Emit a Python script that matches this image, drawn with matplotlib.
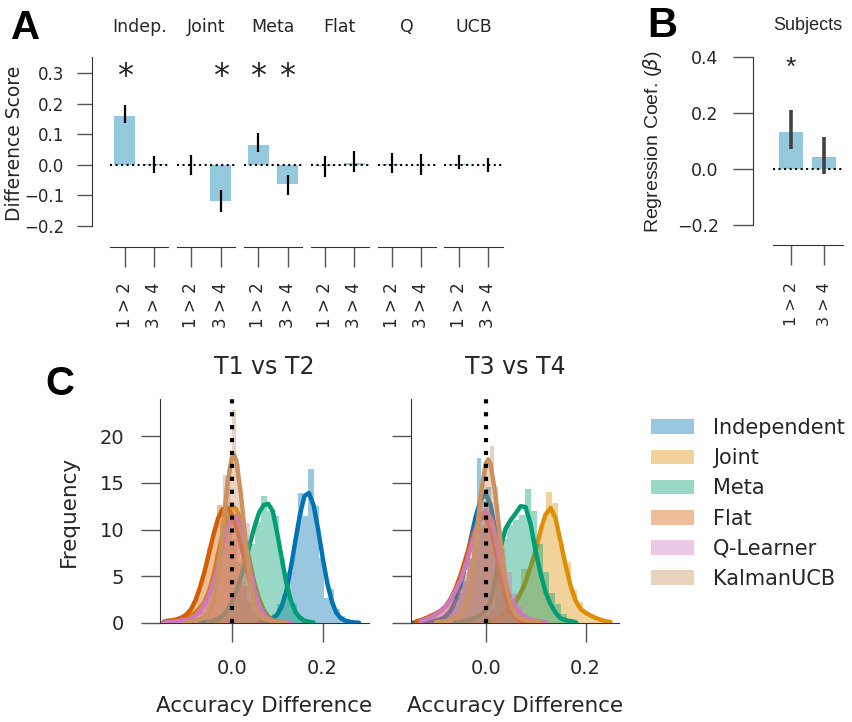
import numpy as np
import matplotlib
matplotlib.use('Agg')
import matplotlib.pyplot as plt
from matplotlib.patches import Patch

# ---------------- Panel A data ----------------
A_MODELS = ['Indep.', 'Joint', 'Meta', 'Flat', 'Q', 'UCB']
A_CONTRASTS = ['1 > 2', '3 > 4']
A_VAL_12 = [0.158, -0.002, 0.064, -0.004, 0.003, 0.003]
A_LO_12 = [0.136, -0.035, 0.040, -0.040, -0.028, -0.014]
A_HI_12 = [0.196, 0.031, 0.104, 0.029, 0.038, 0.032]
A_VAL_34 = [0.002, -0.120, -0.063, 0.004, 0.000, -0.001]
A_LO_34 = [-0.026, -0.156, -0.099, -0.025, -0.035, -0.025]
A_HI_34 = [0.029, -0.084, -0.035, 0.044, 0.035, 0.022]
A_SIG_12 = [True, False, True, False, False, False]
A_SIG_34 = [False, True, True, False, False, False]
A_YTICKS = [-0.2, -0.1, 0.0, 0.1, 0.2, 0.3]

# ---------------- Panel B data ----------------
B_TITLE = 'Subjects'
B_VAL = [0.133, 0.043]
B_LO = [0.070, -0.018]
B_HI = [0.210, 0.115]
B_SIG = [True, False]
B_YTICKS = [-0.2, 0.0, 0.2, 0.4]

# ---------------- Panel C data ----------------
C_MODELS = ['Independent', 'Joint', 'Meta', 'Flat', 'Q-Learner', 'KalmanUCB']
C_COLORS = ['#0173B2', '#DE8F05', '#029E73', '#D55E00', '#CC78BC', '#CA9161']
C_TITLES = ['T1 vs T2', 'T3 vs T4']

# KDE curves, T1 vs T2
K12_INDEP_X = [0.06, 0.07, 0.08, 0.09, 0.10, 0.11, 0.12, 0.13, 0.14, 0.15, 0.16, 0.17, 0.18, 0.19, 0.20, 0.21, 0.22, 0.23, 0.24, 0.25, 0.26, 0.27, 0.28]
K12_INDEP_Y = [0.05, 0.1, 0.25, 0.5, 0.9, 1.8, 3.4, 5.9, 8.8, 11.6, 13.6, 13.9, 12.6, 10.0, 7.0, 4.3, 2.35, 1.1, 0.5, 0.25, 0.12, 0.06, 0.03]
K12_JOINT_X = [-0.15, -0.14, -0.13, -0.12, -0.11, -0.10, -0.09, -0.08, -0.07, -0.06, -0.05, -0.04, -0.03, -0.02, -0.01, 0.00, 0.01, 0.02, 0.03, 0.04, 0.05, 0.06, 0.07, 0.08, 0.09, 0.10, 0.11, 0.12]
K12_JOINT_Y = [0.1, 0.15, 0.2, 0.25, 0.35, 0.5, 0.75, 1.1, 1.6, 2.3, 3.4, 5.1, 7.35, 9.65, 11.5, 12.45, 12.2, 10.85, 8.8, 6.4, 4.2, 2.6, 1.4, 0.7, 0.35, 0.15, 0.07, 0.03]
K12_META_X = [-0.07, -0.06, -0.05, -0.04, -0.03, -0.02, -0.01, 0.00, 0.01, 0.02, 0.03, 0.04, 0.05, 0.06, 0.07, 0.08, 0.09, 0.10, 0.11, 0.12, 0.13, 0.14, 0.15, 0.16, 0.17, 0.18]
K12_META_Y = [0.05, 0.08, 0.15, 0.25, 0.45, 0.8, 1.35, 2.2, 3.4, 4.9, 6.6, 8.5, 10.3, 11.8, 12.6, 12.75, 12.0, 9.6, 6.9, 4.3, 2.4, 1.2, 0.55, 0.25, 0.12, 0.05]
K12_FLAT_X = [-0.15, -0.14, -0.13, -0.12, -0.11, -0.10, -0.09, -0.08, -0.07, -0.06, -0.05, -0.04, -0.03, -0.02, -0.01, 0.00, 0.01, 0.02, 0.03, 0.04, 0.05, 0.06, 0.07, 0.08, 0.09, 0.10]
K12_FLAT_Y = [0.15, 0.25, 0.3, 0.4, 0.6, 0.9, 1.45, 2.4, 3.8, 5.5, 7.5, 9.5, 11.2, 12.2, 12.35, 11.65, 10.2, 8.35, 6.3, 4.45, 2.9, 1.75, 1.0, 0.55, 0.25, 0.1]
K12_Q_X = [-0.15, -0.14, -0.13, -0.12, -0.11, -0.10, -0.09, -0.08, -0.07, -0.06, -0.05, -0.04, -0.03, -0.02, -0.01, 0.00, 0.01, 0.02, 0.03, 0.04, 0.05, 0.06, 0.07, 0.08, 0.09, 0.10, 0.11, 0.12, 0.13]
K12_Q_Y = [0.05, 0.1, 0.15, 0.2, 0.3, 0.35, 0.45, 0.8, 1.2, 2.0, 3.0, 4.45, 6.35, 8.4, 10.15, 11.3, 11.45, 10.35, 8.2, 5.75, 3.5, 1.9, 0.95, 0.45, 0.25, 0.15, 0.1, 0.06, 0.03]
K12_UCB_X = [-0.10, -0.09, -0.08, -0.07, -0.06, -0.05, -0.04, -0.03, -0.02, -0.01, 0.00, 0.005, 0.01, 0.02, 0.03, 0.04, 0.05, 0.06, 0.07, 0.08, 0.09, 0.10, 0.11, 0.12]
K12_UCB_Y = [0.1, 0.15, 0.25, 0.4, 0.6, 1.0, 2.4, 5.4, 9.9, 14.7, 17.7, 18.0, 17.35, 13.8, 9.0, 4.7, 2.0, 0.9, 0.5, 0.3, 0.2, 0.12, 0.07, 0.03]

# KDE curves, T3 vs T4
K34_INDEP_X = [-0.15, -0.14, -0.13, -0.12, -0.11, -0.10, -0.09, -0.08, -0.07, -0.06, -0.05, -0.04, -0.03, -0.02, -0.01, 0.00, 0.01, 0.02, 0.03, 0.04, 0.05, 0.06, 0.07, 0.08, 0.09]
K34_INDEP_Y = [0.02, 0.04, 0.07, 0.1, 0.15, 0.25, 0.4, 0.7, 1.3, 2.4, 4.1, 6.3, 8.9, 11.35, 13.15, 13.8, 12.65, 9.7, 6.3, 3.4, 1.6, 0.7, 0.3, 0.12, 0.05]
K34_JOINT_X = [0.00, 0.01, 0.02, 0.03, 0.04, 0.05, 0.06, 0.07, 0.08, 0.09, 0.10, 0.11, 0.12, 0.13, 0.14, 0.15, 0.16, 0.17, 0.18, 0.19, 0.20, 0.21, 0.22, 0.23, 0.24, 0.25]
K34_JOINT_Y = [0.1, 0.25, 0.4, 0.6, 1.2, 1.8, 2.2, 3.2, 4.4, 6.0, 7.7, 9.9, 11.6, 12.3, 11.2, 8.7, 6.2, 4.0, 2.4, 1.5, 1.1, 0.8, 0.55, 0.35, 0.2, 0.1]
K34_META_X = [-0.06, -0.05, -0.04, -0.03, -0.02, -0.01, 0.00, 0.01, 0.02, 0.03, 0.04, 0.05, 0.06, 0.07, 0.08, 0.09, 0.10, 0.11, 0.12, 0.13, 0.14, 0.15, 0.16, 0.17, 0.18]
K34_META_Y = [0.1, 0.15, 0.25, 0.4, 0.6, 0.9, 1.3, 2.3, 4.8, 8.1, 10.1, 11.0, 11.7, 12.5, 12.4, 10.6, 7.7, 5.3, 3.3, 2.0, 1.1, 0.5, 0.3, 0.2, 0.1]
K34_FLAT_X = [-0.14, -0.13, -0.12, -0.11, -0.10, -0.09, -0.08, -0.07, -0.06, -0.05, -0.04, -0.03, -0.02, -0.01, 0.00, 0.01, 0.02, 0.03, 0.04, 0.05, 0.06, 0.07, 0.08]
K34_FLAT_Y = [0.15, 0.3, 0.5, 0.75, 1.0, 1.3, 1.8, 2.6, 3.7, 5.15, 6.9, 8.65, 10.2, 11.15, 11.35, 10.15, 7.75, 5.0, 2.8, 1.3, 0.55, 0.25, 0.1]
K34_Q_X = [-0.13, -0.12, -0.11, -0.10, -0.09, -0.08, -0.07, -0.06, -0.05, -0.04, -0.03, -0.02, -0.01, 0.00, 0.01, 0.02, 0.03, 0.04, 0.05, 0.06, 0.07, 0.08, 0.09, 0.10, 0.11, 0.12]
K34_Q_Y = [0.2, 0.4, 0.6, 0.9, 1.3, 1.8, 2.5, 3.5, 4.6, 6.2, 8.0, 9.9, 11.45, 12.0, 11.2, 9.1, 6.5, 4.0, 2.6, 1.7, 1.0, 0.6, 0.35, 0.25, 0.15, 0.08]
K34_UCB_X = [-0.10, -0.09, -0.08, -0.07, -0.06, -0.05, -0.04, -0.03, -0.02, -0.01, 0.00, 0.005, 0.01, 0.02, 0.03, 0.04, 0.05, 0.06, 0.07, 0.08, 0.09, 0.10, 0.11]
K34_UCB_Y = [0.08, 0.12, 0.2, 0.3, 0.5, 0.9, 2.0, 4.4, 8.6, 13.6, 17.0, 17.5, 17.0, 13.6, 8.6, 4.4, 2.0, 0.9, 0.5, 0.3, 0.2, 0.12, 0.06]

# Histograms: first bin edge, bin width, bin heights
H12_INDEP = (0.065, 0.0115, [0.3, 0.6, 1.0, 2.0, 3.0, 5.5, 9.0, 13.9, 11.4, 16.5, 12.5, 7.0, 2.7, 3.6, 1.5, 0.8, 0.4, 0.2, 0.1])
H12_JOINT = (-0.08, 0.011, [0.5, 1.2, 2.5, 4.5, 7.5, 11.0, 15.6, 12.5, 10.5, 7.0, 4.0, 2.0, 1.0, 0.4])
H12_META = (-0.065, 0.013, [0.1, 0.3, 0.6, 1.0, 1.8, 2.8, 4.5, 6.5, 8.5, 10.8, 13.6, 12.0, 11.4, 7.0, 3.5, 2.0, 0.8, 0.4, 0.2])
H12_FLAT = (-0.143, 0.011, [0.3, 0.3, 0.5, 0.9, 1.4, 2.4, 3.5, 5.5, 8.0, 10.0, 12.6, 11.5, 11.0, 9.0, 6.5, 4.0, 2.3, 1.2, 0.6, 0.3, 0.1])
H12_Q = (-0.145, 0.0115, [0.2, 0.3, 0.3, 0.5, 0.6, 0.9, 1.4, 2.2, 3.5, 5.5, 7.5, 9.8, 11.0, 11.2, 9.5, 10.7, 5.0, 3.0, 1.6, 0.8, 0.4, 0.2, 0.1, 0.1])
H12_UCB = (-0.057, 0.0095, [0.6, 1.5, 3.5, 7.5, 15.8, 16.5, 22.8, 17.0, 12.0, 6.5, 3.0, 1.5, 0.6, 0.3])

H34_INDEP = (-0.113, 0.0095, [0.2, 0.3, 0.5, 0.8, 1.3, 2.0, 3.2, 4.5, 6.8, 9.5, 17.6, 13.0, 14.5, 11.0, 7.0, 4.0, 2.0, 1.0, 0.5, 0.2])
H34_JOINT = (-0.005, 0.0125, [0.2, 0.4, 0.8, 1.2, 2.0, 3.0, 5.8, 5.8, 8.0, 10.5, 14.0, 12.8, 8.5, 6.5, 3.5, 2.2, 1.2, 0.8, 0.5, 0.2])
H34_META = (-0.054, 0.012, [0.1, 0.2, 0.4, 0.6, 0.9, 1.5, 5.0, 9.0, 10.5, 11.0, 11.5, 14.3, 12.0, 8.5, 5.5, 3.2, 2.0, 1.0, 0.4, 0.2])
H34_FLAT = (-0.145, 0.011, [0.3, 0.5, 0.7, 1.0, 1.3, 1.6, 2.2, 3.0, 4.0, 5.5, 7.0, 9.0, 10.5, 11.8, 11.0, 8.5, 5.5, 3.0, 1.5, 0.7, 0.3])
H34_Q = (-0.135, 0.011, [0.2, 0.4, 0.7, 1.0, 1.4, 1.9, 2.6, 3.6, 4.8, 6.4, 8.2, 10.0, 12.3, 11.0, 10.5, 8.0, 5.5, 3.2, 1.8, 1.0, 0.6, 0.4, 0.2, 0.1])
H34_UCB = (-0.06, 0.0085, [0.5, 1.2, 2.5, 4.5, 8.0, 12.0, 15.0, 17.0, 18.9, 14.5, 10.0, 6.0, 3.0, 1.5, 0.6, 0.3])

C_YTICKS = [0, 5, 10, 15, 20]
C_XTICKS = [0.0, 0.2]
C_XLIMS = [(-0.158, 0.302), (-0.150, 0.267)]
C_YLIM = (0, 23.96)

# ---------------- styling ----------------
BAR_COLOR = '#93C8DD'
TXT = '#262626'
SPINE = '#333333'
TICK = '#555555'
PX = 72 / 100.0  # points per pixel at dpi 100

W, H = 852, 722
fig = plt.figure(figsize=(W / 100, H / 100), dpi=100)


def add_ax(left, top, right, bottom):
    return fig.add_axes([left / W, 1 - bottom / H, (right - left) / W, (bottom - top) / H])


def ftext(x, y, s, **kw):
    return fig.text(x / W, 1 - y / H, s, **kw)


# ---------------- Panel A ----------------
xpos = [0, 1]
for i, name in enumerate(A_MODELS):
    l = 110 + i * 66.9
    ax = add_ax(l, 57, l + 58.3, 225.7)
    vals = [A_VAL_12[i], A_VAL_34[i]]
    lo = [A_LO_12[i], A_LO_34[i]]
    hi = [A_HI_12[i], A_HI_34[i]]
    sig = [A_SIG_12[i], A_SIG_34[i]]
    ax.bar(xpos, vals, width=0.7, color=BAR_COLOR, zorder=1)
    ax.axhline(0, color='k', ls=':', lw=1.5, zorder=2)
    ax.vlines(xpos, lo, hi, color='k', lw=1.6, zorder=3)
    for j in range(2):
        if sig[j]:
            ax.text(xpos[j], 0.29, '*', ha='center', va='center', fontsize=23,
                    color=TXT, family='DejaVu Sans')
    ax.set_xlim(-0.5, 1.5)
    ax.set_ylim(-0.2, 0.353)
    ax.set_xticks(xpos)
    ax.set_xticklabels(A_CONTRASTS, family='DejaVu Sans')
    for s in ['top', 'right']:
        ax.spines[s].set_visible(False)
    ax.spines['bottom'].set_position(('outward', 21 * PX))
    ax.spines['bottom'].set_color(SPINE)
    ax.tick_params(axis='x', length=20 * PX, width=1, color=TICK, pad=16 * PX,
                   labelsize=12, labelcolor=TXT, labelrotation=90)
    if i == 0:
        ax.spines['left'].set_position(('outward', 17.7 * PX))
        ax.spines['left'].set_color(SPINE)
        ax.set_yticks(A_YTICKS)
        ax.tick_params(axis='y', length=15 * PX, width=1, color=TICK, pad=13 * PX,
                       labelsize=12, labelcolor=TXT)
    else:
        ax.spines['left'].set_visible(False)
        ax.set_yticks([])
    ftext(l + 29.15, 26.7, name, ha='center', va='center', fontsize=12.5, color=TXT)

ftext(15, 143, 'Difference Score', ha='center', va='center', rotation=90,
      fontsize=13.5, color=TXT)
ftext(11, 39, 'A', ha='left', va='baseline', fontsize=29, weight='bold',
      family='Liberation Sans', color='black')

# ---------------- Panel B ----------------
axb = add_ax(772.7, 51.2, 842.7, 225)
axb.bar(xpos, B_VAL, width=0.72, color=BAR_COLOR, zorder=1)
axb.axhline(0, color='k', ls=':', lw=1.5, zorder=2)
axb.vlines(xpos, B_LO, B_HI, color='#424242', lw=2.6, zorder=3)
for j in range(2):
    if B_SIG[j]:
        axb.text(xpos[j], 0.36, '*', ha='center', va='center', fontsize=19,
                 color=TXT, family='Liberation Sans')
axb.set_xlim(-0.55, 1.55)
axb.set_ylim(-0.2, 0.42)
axb.set_yticks(B_YTICKS)
axb.set_xticks(xpos)
axb.set_xticklabels(A_CONTRASTS, family='Liberation Sans')
for lab in axb.get_yticklabels():
    lab.set_family('Liberation Sans')
for s in ['top', 'right']:
    axb.spines[s].set_visible(False)
axb.spines['left'].set_bounds(-0.2, 0.4)
axb.spines['left'].set_position(('outward', 20 * PX))
axb.spines['bottom'].set_position(('outward', 20 * PX))
axb.spines['left'].set_color(SPINE)
axb.spines['bottom'].set_color(SPINE)
axb.tick_params(axis='y', length=20 * PX, width=1, color=TICK, pad=14 * PX,
                labelsize=12.5, labelcolor=TXT)
axb.tick_params(axis='x', length=20 * PX, width=1, color=TICK, pad=17 * PX,
                labelsize=11.5, labelcolor=TXT, labelrotation=90)
ftext(653, 142, r'Regression Coef. ($\beta$)', ha='center', va='center', rotation=90,
      fontsize=14, color=TXT, family='Liberation Sans')
ftext(807.7, 25, B_TITLE, ha='center', va='center', fontsize=13, color=TXT,
      family='Liberation Sans')
ftext(647, 37, 'B', ha='left', va='baseline', fontsize=30, weight='bold',
      family='Liberation Sans', color='black')

# ---------------- Panel C ----------------
kde12 = [(K12_INDEP_X, K12_INDEP_Y), (K12_JOINT_X, K12_JOINT_Y), (K12_META_X, K12_META_Y),
         (K12_FLAT_X, K12_FLAT_Y), (K12_Q_X, K12_Q_Y), (K12_UCB_X, K12_UCB_Y)]
kde34 = [(K34_INDEP_X, K34_INDEP_Y), (K34_JOINT_X, K34_JOINT_Y), (K34_META_X, K34_META_Y),
         (K34_FLAT_X, K34_FLAT_Y), (K34_Q_X, K34_Q_Y), (K34_UCB_X, K34_UCB_Y)]
hist12 = [H12_INDEP, H12_JOINT, H12_META, H12_FLAT, H12_Q, H12_UCB]
hist34 = [H34_INDEP, H34_JOINT, H34_META, H34_FLAT, H34_Q, H34_UCB]

axL = add_ax(160, 399, 369, 623)
axR = add_ax(410.7, 399, 619, 623)
for k, (ax, kdes, hists) in enumerate([(axL, kde12, hist12), (axR, kde34, hist34)]):
    for m in range(len(C_MODELS)):
        start, width, heights = hists[m]
        edges = start + width * np.arange(len(heights))
        ax.bar(edges, heights, width=width, align='edge', color=C_COLORS[m],
               alpha=0.4, linewidth=0, zorder=2 + m)
        kx, ky = kdes[m]
        ax.plot(kx, ky, color=C_COLORS[m], lw=3.2, solid_capstyle='round',
                solid_joinstyle='round', zorder=2 + m)
    ax.axvline(0, color='k', lw=3.0, dashes=(1, 2.1), dash_capstyle='butt', zorder=20)
    ax.set_xlim(*C_XLIMS[k])
    ax.set_ylim(*C_YLIM)
    ax.set_xticks(C_XTICKS)
    ax.set_yticks(C_YTICKS)
    for s in ['top', 'right']:
        ax.spines[s].set_visible(False)
    ax.spines['left'].set_color(SPINE)
    ax.spines['bottom'].set_color(SPINE)
    ax.tick_params(axis='both', length=19 * PX, width=1, color=TICK, pad=12,
                   labelsize=14, labelcolor=TXT)
    ax.set_xlabel('Accuracy Difference', fontsize=15.5, color=TXT, labelpad=13)
    if k == 1:
        ax.tick_params(axis='y', labelleft=False)
    else:
        ax.set_ylabel('Frequency', fontsize=15.5, color=TXT, labelpad=15)
    cx = (160 + 369) / 2 if k == 0 else (410.7 + 619) / 2
    ftext(cx, 367, C_TITLES[k], ha='center', va='center', fontsize=17, color=TXT)

ftext(45, 395, 'C', ha='left', va='baseline', fontsize=29, weight='bold',
      family='Liberation Sans', color='black')

handles = [Patch(facecolor=c, alpha=0.4, linewidth=0) for c in C_COLORS]
fig.legend(handles, C_MODELS, loc='upper left', bbox_to_anchor=(651 / W, 1 - 418 / H),
           frameon=False, fontsize=15, handlelength=2.07, handleheight=0.7,
           handletextpad=0.9, labelspacing=0.49, borderpad=0, borderaxespad=0,
           labelcolor=TXT)

fig.savefig('out.png', dpi=100)
